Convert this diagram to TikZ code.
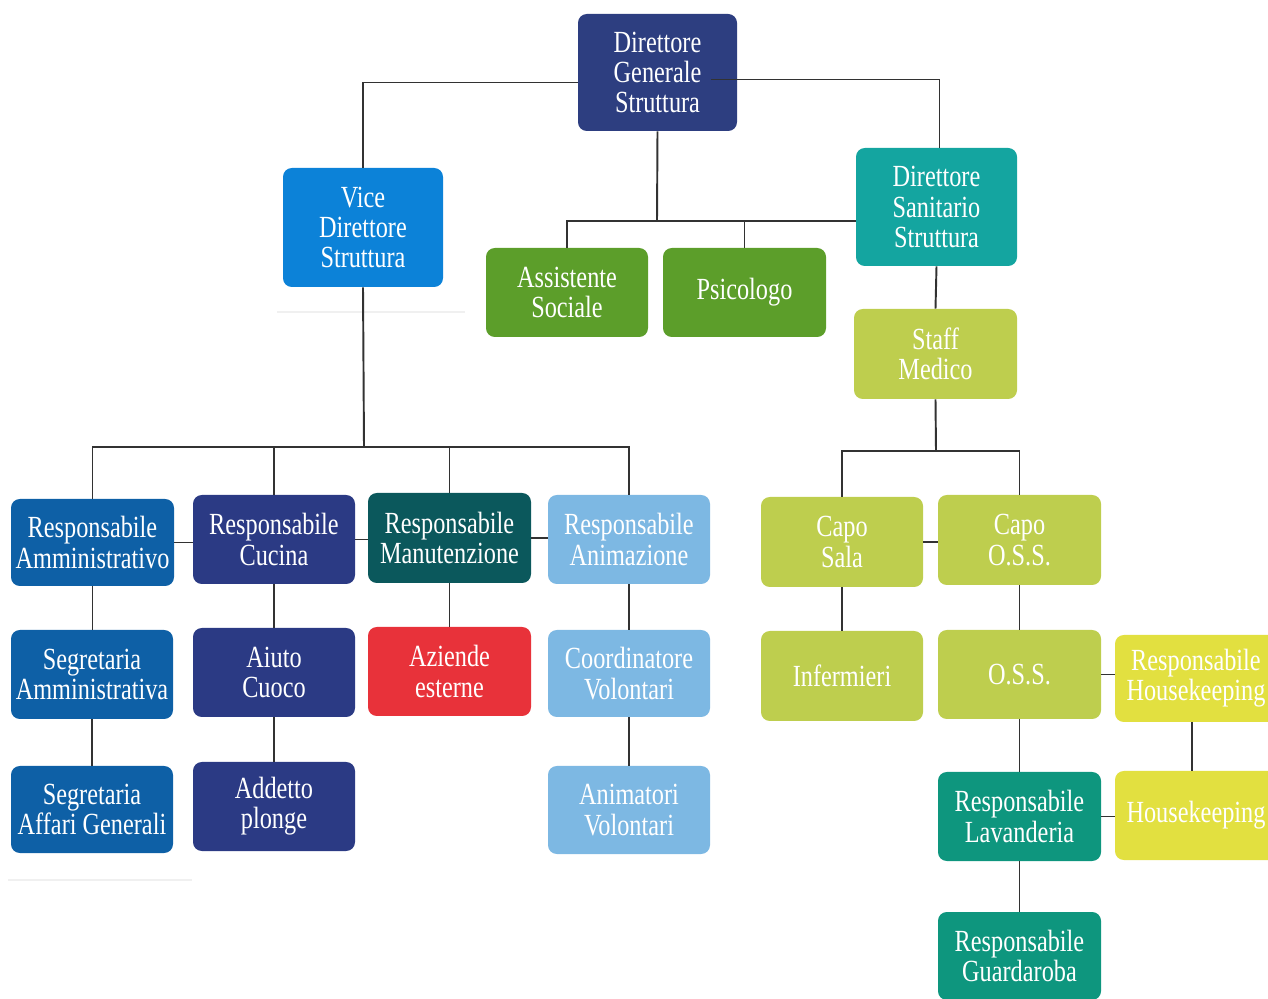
\documentclass[tikz,border=0pt]{standalone}
\usepackage{fontspec}
\newfontfamily\boxfont[FakeStretch=0.79]{Liberation Serif}
\usetikzlibrary{calc}
\definecolor{cDG}{RGB}{45,62,128}
\definecolor{cVice}{RGB}{12,130,216}
\definecolor{cDS}{RGB}{20,165,160}
\definecolor{cGreen}{RGB}{92,158,42}
\definecolor{cOlive}{RGB}{190,206,78}
\definecolor{cAmm}{RGB}{14,96,166}
\definecolor{cCuc}{RGB}{43,58,132}
\definecolor{cMan}{RGB}{11,88,92}
\definecolor{cRed}{RGB}{232,50,58}
\definecolor{cAnim}{RGB}{125,184,227}
\definecolor{cYel}{RGB}{226,224,64}
\definecolor{cLav}{RGB}{14,150,126}
\definecolor{cLine}{RGB}{50,50,50}
\tikzset{
  bx/.style={rounded corners=5pt, draw=none, text=white, align=center,
    font=\boxfont\fontsize{17.5}{17.2}\selectfont, inner sep=0pt},
  bxsize/.style 2 args={minimum width=#1*0.02cm, minimum height=#2*0.02cm},
  conn/.style={draw=cLine, line width=1.1pt},
  faint/.style={draw=gray!12, line width=1pt}
}
\begin{document}
\begin{tikzpicture}[x=0.02cm,y=-0.02cm]
\useasboundingbox (0,0) rectangle (1268,999);
% top level
\node[bx,bxsize={159}{117},fill=cDG] (dg) at (657.5,72.5) {Direttore\\Generale\\Struttura};
\node[bx,bxsize={160}{119},fill=cVice] (vice) at (363,227.5) {Vice\\Direttore\\Struttura};
\node[bx,bxsize={161}{118},fill=cDS] (ds) at (936.5,207) {Direttore\\Sanitario\\Struttura};
\node[bx,bxsize={162}{89},fill=cGreen] (as) at (567,292.5) {Assistente\\Sociale};
\node[bx,bxsize={163}{89},fill=cGreen] (ps) at (744.5,292.5) {Psicologo};
\node[bx,bxsize={163}{90},fill=cOlive] (sm) at (935.5,354) {Staff\\Medico};
% left block
\node[bx,bxsize={163}{87},fill=cAmm] (ra) at (92.5,542.5) {Responsabile\\Amministrativo};
\node[bx,bxsize={162}{89},fill=cCuc] (rc) at (274,539.5) {Responsabile\\Cucina};
\node[bx,bxsize={163}{90},fill=cMan] (rm) at (449.5,538) {Responsabile\\Manutenzione};
\node[bx,bxsize={162}{89},fill=cAnim] (ran) at (629,539.5) {Responsabile\\Animazione};
\node[bx,bxsize={162}{89},fill=cAmm] (sa) at (92,674.5) {Segretaria\\Amministrativa};
\node[bx,bxsize={162}{89},fill=cCuc] (ac) at (274,672.5) {Aiuto\\Cuoco};
\node[bx,bxsize={163}{89},fill=cRed] (ae) at (449.5,671.5) {Aziende\\esterne};
\node[bx,bxsize={162}{87},fill=cAnim] (cv) at (629,673.5) {Coordinatore\\Volontari};
\node[bx,bxsize={162}{87},fill=cAmm] (sg) at (92,809.5) {Segretaria\\Affari Generali};
\node[bx,bxsize={162}{89},fill=cCuc] (ap) at (274,806.5) {Addetto\\plonge};
\node[bx,bxsize={162}{88},fill=cAnim] (av) at (629,810) {Animatori\\Volontari};
% right block
\node[bx,bxsize={162}{90},fill=cOlive] (cs) at (842,542) {Capo\\Sala};
\node[bx,bxsize={163}{90},fill=cOlive] (co) at (1019.5,540) {Capo\\O.S.S.};
\node[bx,bxsize={162}{90},fill=cOlive] (inf) at (842,676) {Infermieri};
\node[bx,bxsize={163}{89},fill=cOlive] (oss) at (1019.5,674.5) {O.S.S.};
\node[bx,bxsize={162}{87},fill=cYel] (rh) at (1196,678.5) {Responsabile\\Housekeeping};
\node[bx,bxsize={162}{89},fill=cYel] (hk) at (1196,815.5) {Housekeeping};
\node[bx,bxsize={163}{89},fill=cLav] (lav) at (1019.5,816.5) {Responsabile\\Lavanderia};
\node[bx,bxsize={163}{88},fill=cLav] (gu) at (1019.5,956) {Responsabile\\Guardaroba};
% faint lines
\draw[faint] (277,312) -- (465,312);
\draw[faint] (8,880) -- (192,880);
% junctions
\coordinate (j1) at (657,221);
\coordinate (j2) at (364,447);
\coordinate (j3) at (936,451);
% connectors top
\draw[conn] ($(dg.west)+(0,10)$) -| (vice.north);
\draw[conn] ($(dg.east)+(-26,7)$) -| ($(ds.north)+(3,0)$);
\draw[conn] (dg.south) -- (j1);
\draw[conn] (as.north) |- (j1) -- (ds.west |- j1);
\draw[conn] (ps.north) -- (ps.north |- j1);
\draw[conn] (ds.south) -- (sm.north);
% vice children
\draw[conn] (vice.south) -- (j2);
\draw[conn] (ra.north) |- (j2) -| (ran.north);
\draw[conn] (rc.north) -- (rc.north |- j2);
\draw[conn] (rm.north) -- (rm.north |- j2);
\draw[conn] (ra.east) -- (ra.east -| rc.west);
\draw[conn] (rc.east) -- (rc.east -| rm.west);
\draw[conn] (rm.east) -- (rm.east -| ran.west);
\draw[conn] (ra.south) -- (ra.south |- sa.north);
\draw[conn] (sa.south) -- (sa.south |- sg.north);
\draw[conn] (rc.south) -- (ac.north);
\draw[conn] (ac.south) -- (ap.north);
\draw[conn] (rm.south) -- (ae.north);
\draw[conn] (ran.south) -- (cv.north);
\draw[conn] (cv.south) -- (av.north);
% staff children
\draw[conn] (sm.south) -- (j3);
\draw[conn] (cs.north) |- (j3) -| (co.north);
\draw[conn] (cs.east) -- (cs.east -| co.west);
\draw[conn] (cs.south) -- (inf.north);
\draw[conn] (co.south) -- (oss.north);
\draw[conn] (oss.east) -- (oss.east -| rh.west);
\draw[conn] ($(rh.south)+(-4,0)$) -- ($(rh.south |- hk.north)+(-4,0)$);
\draw[conn] (oss.south) -- (lav.north);
\draw[conn] (lav.east) -- (lav.east -| hk.west);
\draw[conn] (lav.south) -- (gu.north);
\end{tikzpicture}
\end{document}
